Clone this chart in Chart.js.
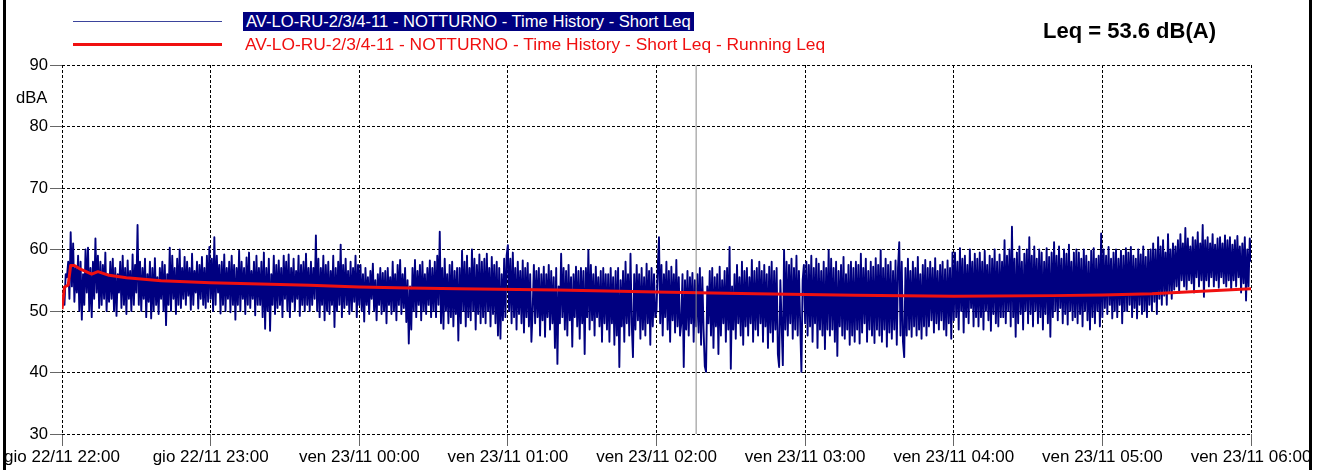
<!DOCTYPE html>
<html>
<head>
<meta charset="utf-8">
<script src="https://cdn.jsdelivr.net/npm/chart.js@4.4.0/dist/chart.umd.min.js"></script>
<style>
html,body{margin:0;padding:0;background:#fff;}
#wrap{position:relative;width:1324px;height:470px;overflow:hidden;font-family:"Liberation Sans",Arial,sans-serif;color:#000;}
#c{position:absolute;left:0;top:0;}
.frame{position:absolute;top:0;width:3px;height:470px;background:#000;}
.legline{position:absolute;left:73px;width:149px;}
.legtxt{position:absolute;white-space:nowrap;font-size:16.6px;line-height:19px;}
</style>
</head>
<body>
<div id="wrap">
  <canvas id="c" width="1324" height="470"></canvas>
  <div class="frame" style="left:3px"></div>
  <div class="frame" style="left:1309px"></div>
  <div class="legline" style="top:21px;height:1px;background:#3b449c"></div>
  <div class="legline" style="top:43px;height:3px;background:#f01010"></div>
  <div class="legtxt" id="lab1" style="left:243px;top:12px;padding:0 3px;background:#000080;color:#fff"></div>
  <div class="legtxt" id="lab2" style="left:245px;top:34px;font-size:17.4px;line-height:20px;color:#f01010"></div>
  <div style="position:absolute;left:1043px;top:19px;font-size:22px;line-height:24px;font-weight:bold;white-space:nowrap">Leq = 53.6 dB(A)</div>
  <div style="position:absolute;left:16px;top:88px;font-size:16.6px;line-height:19px">dBA</div>
</div>
<script>
// ---- data ----
const seriesNames = [
  "AV-LO-RU-2/3/4-11 - NOTTURNO - Time History - Short Leq",
  "AV-LO-RU-2/3/4-11 - NOTTURNO - Time History - Short Leq - Running Leq"
];
const tickLabels = [
  "gio 22/11 22:00","gio 22/11 23:00","ven 23/11 00:00","ven 23/11 01:00","ven 23/11 02:00",
  "ven 23/11 03:00","ven 23/11 04:00","ven 23/11 05:00","ven 23/11 06:00"
];
const yTicks = [30,40,50,60,70,80,90];
const sampleStepMin = 0.5; // minutes between Short Leq samples (from 22:00)
const shortLeq = [
50.5,52,51,56,55.5,58,52,62.8,54,61,51.5,57,53,59,50,58,48.6,56,51,60,
53,60.3,50,57,49,58,52,61.8,53,59,50.5,58,51,57.5,52,59.5,50,56,51.5,58,
52,58.5,50,57,49.2,56,53,58,50.5,59,51,57,49.5,58.2,52,56.5,50,59.2,51,57.5,
53,64,51,58,50,57,52,58.5,49,56,51.5,58,48.8,57,50,58.6,51,55.5,49.5,57,
52,58,50,57.5,47.7,56,51,60.3,50,59,52,57,49.5,58.5,51,60,50.5,57,52,58.8,
51,58,52.5,57,50.2,59.3,51,56.5,53,58,50.4,57.5,52,58.8,51,57,50.5,59,51.5,60.4,
52,58.5,50,62,51,59,53,57.5,49.6,58,51,59.2,50,57,52,58,49.8,59,51,57.5,
48.6,57,51,59.8,50,58,52,57,49.5,58.7,51,59.5,50.5,56.5,52,58,49.3,59,51,57,
51,58,49,59.5,47.1,57,50,58.5,46.8,56,51,59,49.5,57.5,50.5,58.2,51,57,49,59,
52,58,50,59.2,49,57,51.5,58.5,50,56.5,52,59,49.2,57.5,51,58,50,59.3,51,57,
50,58,51,57,52,62.3,50,58.5,49,57,51,59,48.5,57.5,50,58,49.5,56.5,51,59,
47.4,57,50,58,51,60.8,49,57.5,50.5,58.5,51,56.5,49.5,58,50,57,51.5,59,49,57.5,
51,57.5,50,56,48.3,57,51,55.5,49.5,56.5,52,57.7,50,55,48.5,56,51,57,49.5,56.2,
50,56.5,48,57,51,55.5,49.5,58,50,56,48.5,57.5,51,58.3,49.5,56,50.5,57,48.2,55,
44.7,54,47,57,50,58.3,49,56.5,51,57.5,48.5,58,50,56,49.5,57,51,58.2,49,57,
50,58,49,59,51,62.9,48,57,47.1,58.5,50,56,48,57.5,49,58,47.5,56.5,49.5,57,
45.2,57,48,59.8,50,58,47.5,59,49,57,48.5,60,50,58.5,47,57.5,49.5,59.2,48,58,
49,58.5,48,59.3,50,57,47.5,58.8,49.5,57.5,48,58,46,57,45.5,56,48.5,58.5,49,59,
60.7,50,58.5,48,59.5,49,57,47,58,49.5,56.5,48,58.2,46.5,57,49,57.8,47.5,56,45,
50,57.5,48,56.5,49,57,46,56,48.5,57.2,45.8,56,49,57.5,47,56.5,48,55.5,44,57,
41.4,54,48,59.3,49,57,47,56.5,46,57.5,48.5,55.5,44.2,56,49,57.2,47.5,56.5,45.5,57,
48,56.5,43,57,49,59.9,47,57.5,48.5,56,46,57.2,49,55.5,47.5,56.5,45,57,48,56,
47,56,45,57,48,55.5,44.5,56.5,46,57,40.9,55,47.5,56.5,45,58,48,56,46,59.3,
48,42.5,56,47,57.5,48.5,56,45.5,57,47,55.5,46,57.7,48,56.5,44.5,57,47.5,56,49,
50,57,62,48,57.5,46,56,49,58,47,56.5,45,57.2,48.5,56,46.5,58.3,47.5,55.5,46,
48,56,40.9,55,47,56.5,46,55.5,48,56.2,45,55,47.5,56,46.5,57,44.5,55.5,47,41,
40.1,54,48,56.5,46,57,44,55.5,47.5,56,43,57.2,46,55,48,56.5,45,57,47,60.4,
40.6,54,47,56,45.5,57.5,48,55.5,46,58,44.5,56.5,47.5,57,46,55.5,48,58.3,45,56.5,
47,57,46,58,48,56.5,45,57.5,47.5,56,44,57.2,46.5,58,45,56.5,47,57,43,40.9,
55,48,41.2,59.9,47,58,46,57.5,48,58.5,45.5,57,47,59,46,56.5,48,40.1,55,57.5,
48,58,46,57.5,47.5,59,45,57,48,58.5,44,57.7,47,56.5,46,58,43.8,57,47,59.9,
46,58.5,47,57,45,58,42.7,56.5,47.5,57.5,46,58.8,45.5,56,47,57.5,44.5,58,46,57,
45,58,47,57.5,44.7,59.3,46.5,57,48,58.5,45,56.5,47,58,46,57.2,44.8,58.6,47,57.5,
46,59.9,45,57,47,58.5,44.2,57.5,46.5,58,45.5,56.5,47,58.2,44.5,57,61.2,46,58,45,
42.5,57,46,58.5,47,56.5,45.8,58,47.5,57,46,58.8,47,56,45.5,57.5,47.5,58.3,46,57,
47.5,58,48.5,57,46.5,58.6,48,56.5,47,57.5,48.5,58,47,56.8,46,58.2,48,57,45.5,59.5,
48.5,59.5,49,58,47,60.2,50,58.5,46.5,59,49,57.5,48,60,50.5,58,47.5,59.3,49,58.5,
47.5,59.5,49,58,47,59.8,50,57.5,48.5,59,46.8,58.5,49.5,60,48,58,47.5,59.2,49,58,
49,61.5,48,59,50,60,47.5,63.7,49,58.5,45.8,59.5,48,60.5,49.5,58,47,59.3,50,60,
48,62,49.5,59,47.5,60.5,50,58.5,48,60,49,59.5,47,58,49.5,60.2,48,58.8,45.8,59.5,
49,61.2,50,59,48.5,60.5,50.5,58.5,48,60,49.5,59.3,47.8,60.8,50,58,48.5,59.5,49,60,
48,59.5,49.5,58.5,47.5,60,50,59,48.5,58,47,59.8,49,60.2,48,58.5,50,59,47.5,62.6,
49,60,50.5,59,49.5,60.4,51,58.5,48.8,59.5,50,60,49,58.5,51,59.8,48,59,50,60.2,
50,59.5,51,60.4,49,59,50.5,58.5,48.8,60,51,59.2,49.5,60.5,50,58.8,49,59.8,51,60,
50,61,51.5,60,49.5,62,52,60.5,51,61.5,52.5,59.5,51,62.5,53,60,52,61,53.5,60.5,
54,61.5,53,62.5,55,61,54,63.5,53.5,61.8,55,60.5,54.5,62,53,61.5,55.5,62.8,54,61,
55,64,52.3,61.5,55,62,54,61,55.5,62.5,54,60.8,55,61.8,53.8,62,55.5,61,54.5,62.3,
54,61.5,55,62,53.5,60.8,55,61.5,54,62.2,55.5,60.5,53,61,54.5,62,51.7,60,54,61.8,
58
];
const runMin = [0,1,2.5,3.5,5,7,12,14.5,19,26,40,60,80,100,120,140,160,200,240,280,320,360,400,420,440,460,480];
const runLeq = [50.3,53.9,54.2,57.4,57.4,56.9,56.0,56.4,55.8,55.4,54.9,54.6,54.4,54.2,53.9,53.75,53.6,53.4,53.1,52.8,52.55,52.4,52.5,52.6,52.8,53.2,53.6];
const cursorMin = 256;
const cursorRange = [30, 90];

// ---- chart ----
document.getElementById('lab1').textContent = seriesNames[0];
document.getElementById('lab2').textContent = seriesNames[1];

const shortPts = shortLeq.map((v,i)=>({x:i*sampleStepMin, y:v}));
const runPts = runMin.map((m,i)=>({x:m, y:runLeq[i]}));
const cursorPts = cursorRange.map(v=>({x:cursorMin, y:v}));

Chart.defaults.font.family = '"Liberation Sans", Arial, sans-serif';
Chart.defaults.color = '#000';

new Chart(document.getElementById('c'), {
  type: 'line',
  data: { datasets: [
    { label: 'cursor', data: cursorPts, borderColor: '#8a8a8a', borderWidth: 1, pointRadius: 0, order: 0 },
    { label: seriesNames[1], data: runPts, borderColor: '#f01010', borderWidth: 3, pointRadius: 0, order: 1 },
    { label: seriesNames[0], data: shortPts, borderColor: '#000080', borderWidth: 1.9, pointRadius: 0, order: 2, borderJoinStyle: 'round' }
  ]},
  options: {
    responsive: false, animation: false, events: [],
    parsing: false, normalized: true,
    elements: { line: { tension: 0, borderJoinStyle: 'round' } },
    layout: { padding: { left: 0, right: 73, top: 65, bottom: 0 } },
    plugins: { legend: { display: false }, tooltip: { enabled: false } },
    scales: {
      x: {
        type: 'linear', min: 0, max: 480,
        afterBuildTicks: s => { s.ticks = tickLabels.map((t,i)=>({value: i*60})); },
        ticks: { autoSkip: false, maxRotation: 0, minRotation: 0, padding: 1, font: { size: 17 },
                 callback: (v,i) => tickLabels[i] },
        grid: { color: '#000', lineWidth: 1, tickLength: 12, tickColor: '#666', tickBorderDash: [] },
        border: { display: false, dash: [3,2] },
        afterFit: s => { s.height = 36; s.paddingLeft = 0; s.paddingRight = 0; }
      },
      y: {
        type: 'linear', min: 30, max: 90,
        afterBuildTicks: s => { s.ticks = yTicks.map(v=>({value: v})); },
        ticks: { padding: 2, font: { size: 16.6 } },
        grid: { color: '#000', lineWidth: 1, tickLength: 12, tickColor: '#666', tickBorderDash: [] },
        border: { display: false, dash: [3,2] },
        afterFit: s => { s.width = 62; s.paddingTop = 0; s.paddingBottom = 0; }
      }
    }
  }
});
</script>
</body>
</html>
